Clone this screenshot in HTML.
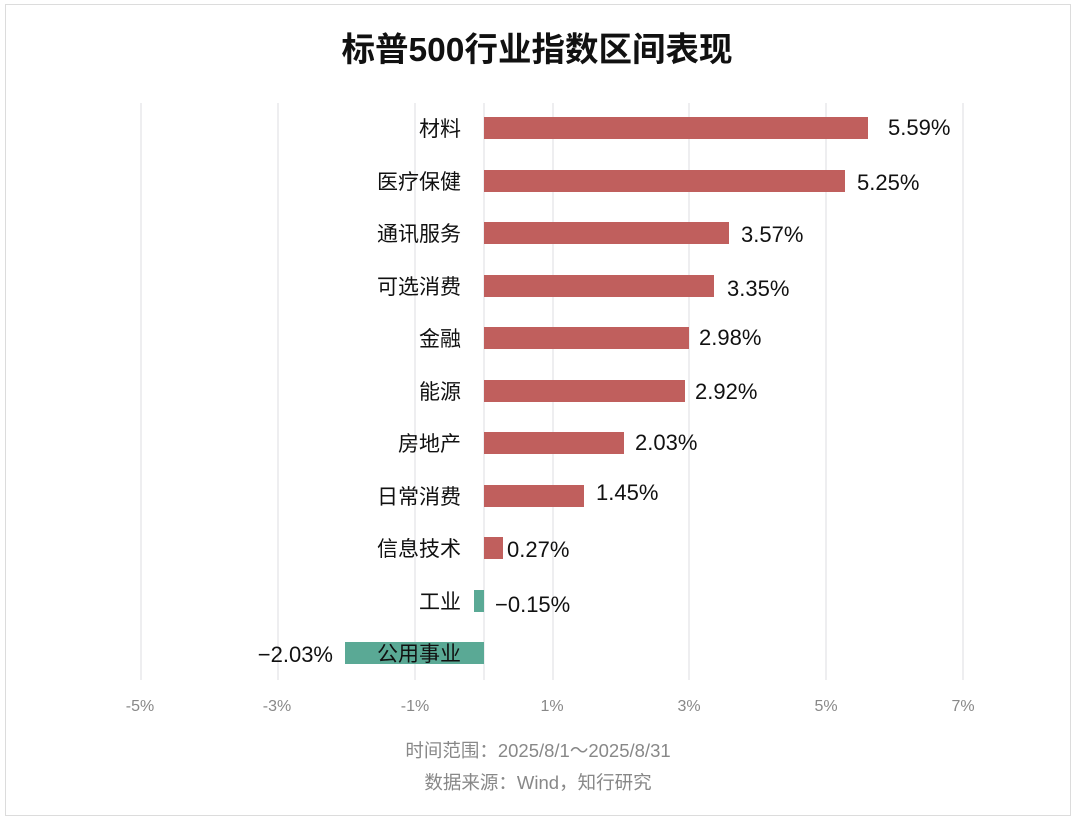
<!DOCTYPE html>
<html><head><meta charset="utf-8"><style>
html,body{margin:0;padding:0;background:#fff}
svg{display:block}
text{font-family:"Liberation Sans","Noto Sans CJK SC",sans-serif}
</style></head><body>
<svg width="1076" height="822" viewBox="0 0 1076 822">
<rect x="5.5" y="4.5" width="1065" height="811" fill="#fff" stroke="#dcdcdc"/>
<text x="537" y="61" text-anchor="middle" font-size="33.5" font-weight="bold" fill="#111">标普500行业指数区间表现</text>
<g stroke="#dcdce0" stroke-width="1">
<line x1="141" y1="103" x2="141" y2="680"/><line x1="278" y1="103" x2="278" y2="680"/>
<line x1="415" y1="103" x2="415" y2="680"/><line x1="553" y1="103" x2="553" y2="680"/>
<line x1="689" y1="103" x2="689" y2="680"/><line x1="826" y1="103" x2="826" y2="680"/>
<line x1="963" y1="103" x2="963" y2="680"/><line x1="484" y1="103" x2="484" y2="680"/>
</g>
<g fill="#c05f5d">
<rect x="484" y="117" width="384" height="22"/>
<rect x="484" y="170" width="361" height="22"/>
<rect x="484" y="222" width="245" height="22"/>
<rect x="484" y="275" width="230" height="22"/>
<rect x="484" y="327" width="205" height="22"/>
<rect x="484" y="380" width="201" height="22"/>
<rect x="484" y="432" width="140" height="22"/>
<rect x="484" y="485" width="100" height="22"/>
<rect x="484" y="537" width="19" height="22"/>
</g>
<g fill="#5aa995">
<rect x="474" y="590" width="10" height="22"/>
<rect x="345" y="642" width="139" height="22"/>
</g>
<g font-size="21" fill="#111" text-anchor="end">
<text x="461" y="136">材料</text><text x="461" y="189">医疗保健</text>
<text x="461" y="241">通讯服务</text><text x="461" y="294">可选消费</text>
<text x="461" y="346">金融</text><text x="461" y="399">能源</text>
<text x="461" y="451">房地产</text><text x="461" y="504">日常消费</text>
<text x="461" y="556">信息技术</text><text x="461" y="609">工业</text>
<text x="461" y="661">公用事业</text><text x="333" y="662" font-size="22">−2.03%</text>
</g>
<g font-size="22" fill="#111">
<text x="888" y="135">5.59%</text><text x="857" y="190">5.25%</text>
<text x="741" y="242">3.57%</text><text x="727" y="296">3.35%</text>
<text x="699" y="345">2.98%</text><text x="695" y="399">2.92%</text>
<text x="635" y="450">2.03%</text><text x="596" y="500">1.45%</text>
<text x="507" y="557">0.27%</text><text x="495" y="612">−0.15%</text>
</g>
<g font-size="16" fill="#888" text-anchor="middle">
<text x="140" y="711">-5%</text><text x="277" y="711">-3%</text><text x="415" y="711">-1%</text>
<text x="552" y="711">1%</text><text x="689" y="711">3%</text><text x="826" y="711">5%</text><text x="963" y="711">7%</text>
</g>
<g font-size="18.5" fill="#888" text-anchor="middle">
<text x="538" y="757">时间范围：2025/8/1～2025/8/31</text>
<text x="538" y="789">数据来源：Wind，知行研究</text>
</g>
</svg>
</body></html>
